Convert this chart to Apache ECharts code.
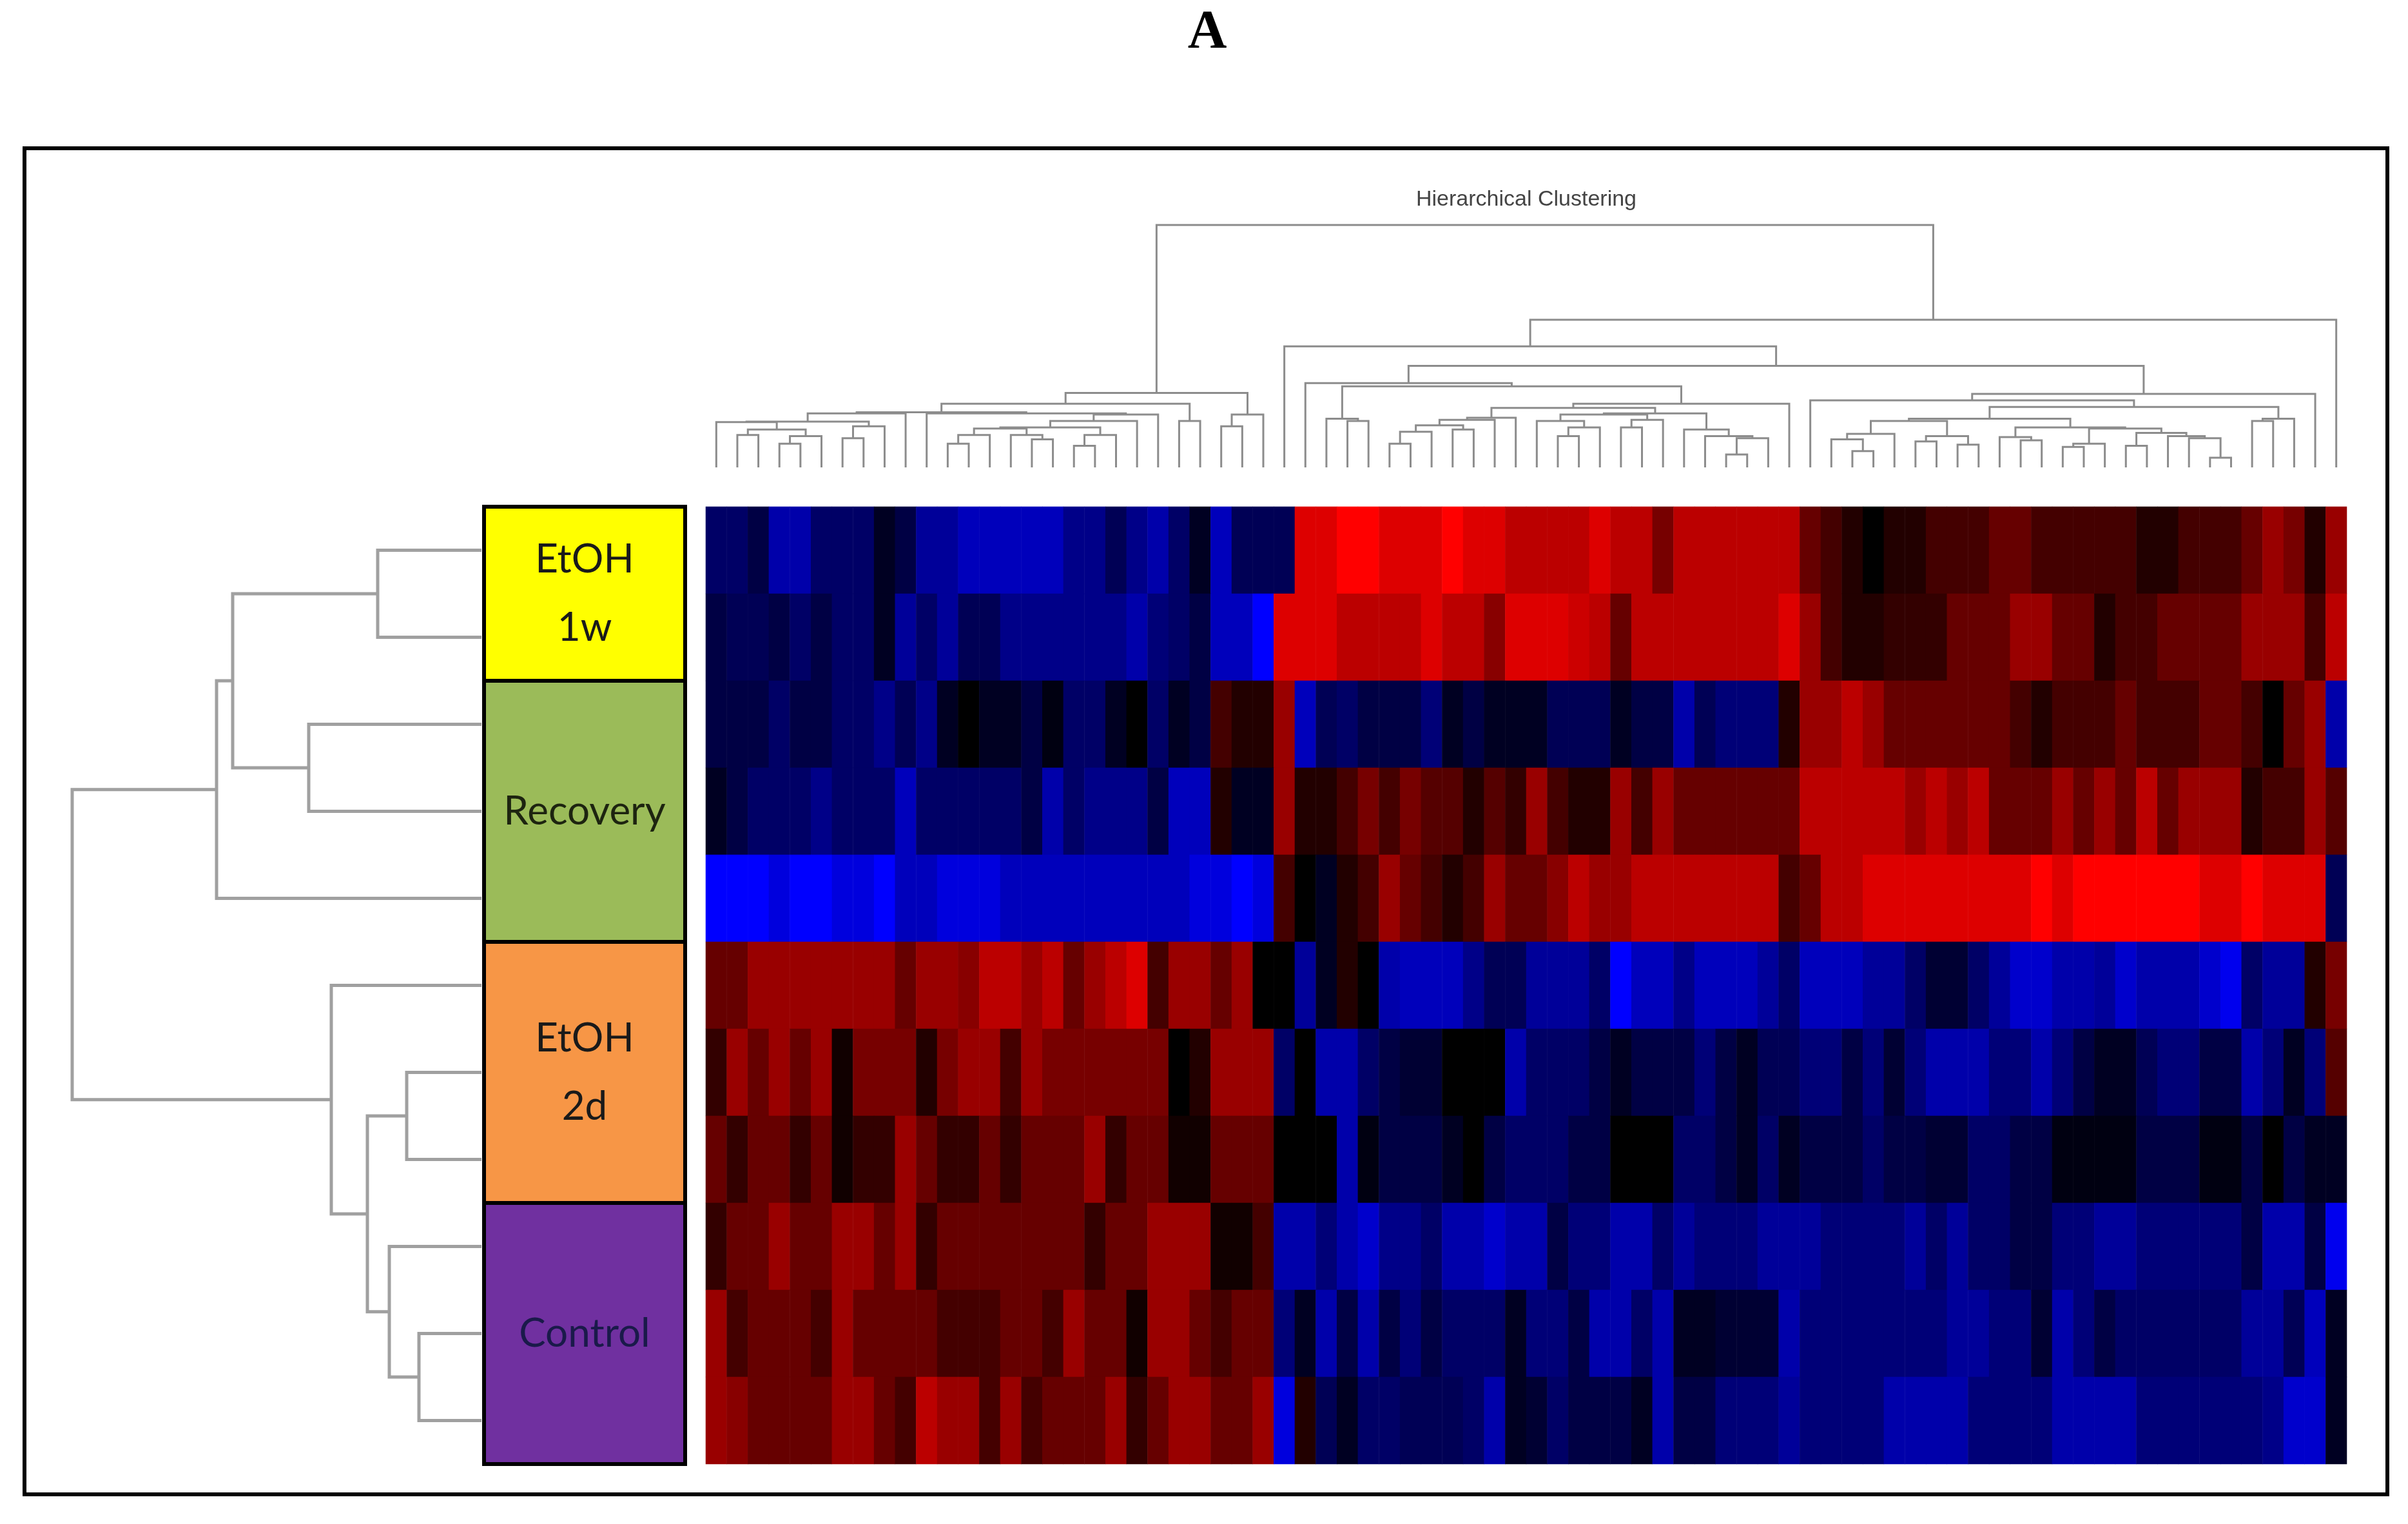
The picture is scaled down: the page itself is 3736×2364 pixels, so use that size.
<!doctype html>
<html lang="en">
<head>
    <meta charset="utf-8">
    <title>Hierarchical Clustering</title>
    <script src="https://cdn.jsdelivr.net/npm/echarts/dist/echarts.min.js"></script>
    <style>
        html, body { margin: 0; padding: 0; background: #fff; }
        #main { width: 3736px; height: 2364px; }
    </style>
</head>
<body>
<div id="main"></div>
<script>
// heatmap rows, top to bottom. values are colour steps: -15 blue .. 0 black .. 15 red
var row1 = [-6,-6,-4,-10,-10,-6,-6,-6,-2,-4, -9,-9,-11,-11,-11,-11,-11,-8,-8,-5, -8,-10,-6,-2,-11,-5,-5,-5,13,13,
            15,15,13,13,13,15,13,13,11,11, 11,11,13,11,11,7,11,11,11,11, 11,11,6,4,2,0,2,2,4,4, 4,6,6,4,4,4,4,4,2,2, 4,4,4,6,9,7,2,9];
var row2 = [-4,-5,-5,-4,-6,-4,-6,-6,-2,-9, -6,-9,-5,-5,-8,-8,-8,-8,-8,-8, -10,-7,-6,-4,-11,-11,-15,13,13,13,
            11,11,11,11,13,11,11,8,13,13, 13,12,11,6,11,11,11,11,11,11, 11,13,9,4,2,2,3,3,3,6, 6,6,9,9,6,6,2,4,4,6, 6,6,6,9,9,9,4,11];
var row3 = [-4,-4,-4,-6,-4,-4,-6,-6,-8,-5, -8,-2,0,-2,-2,-4,-1,-6,-6,-2, 0,-6,-2,-4,4,2,2,9,-11,-5,
            -6,-4,-4,-4,-7,-2,-4,-2,-2,-2, -5,-5,-5,-2,-4,-4,-10,-5,-7,-7, -7,2,9,9,11,9,6,6,6,6, 6,6,4,2,4,4,4,6,4,4, 4,6,6,4,0,6,9,-10];
var row4 = [-2,-4,-6,-6,-6,-8,-6,-6,-6,-11, -6,-6,-6,-6,-6,-4,-10,-6,-8,-8, -8,-4,-11,-11,2,-2,-2,9,2,2,
            4,7,4,7,5,5,2,5,3,9, 4,2,2,9,4,9,6,6,6,6, 6,6,11,11,11,11,11,9,11,9, 11,6,6,6,9,6,9,6,11,6, 9,9,9,2,4,4,9,5];
var row5 = [-15,-15,-15,-13,-15,-15,-13,-13,-15,-11, -11,-13,-13,-13,-11,-11,-11,-11,-11,-11, -11,-11,-11,-13,-13,-15,-13,4,0,-2,
            2,4,9,6,4,2,4,9,6,6, 8,11,9,9,11,11,11,11,11,11, 11,4,6,11,11,13,13,13,13,13, 13,13,13,15,13,15,15,15,15,15, 15,13,13,15,13,13,13,-5];
var row6 = [6,6,9,9,9,9,9,9,9,6, 9,9,8,11,11,9,11,6,9,11, 13,4,9,9,6,9,0,0,-9,-2,
            2,0,-10,-11,-11,-11,-8,-5,-5,-9, -9,-9,-6,-15,-11,-11,-8,-11,-11,-11, -9,-6,-11,-11,-11,-9,-9,-6,-3,-3, -6,-9,-12,-12,-10,-10,-9,-12,-10,-10, -10,-12,-14,-6,-9,-9,2,7];
var row7 = [3,9,6,9,6,9,1,7,7,7, 2,7,9,9,4,9,7,7,7,7, 7,7,0,2,9,9,9,-6,0,-10,
            -10,-6,-4,-3,-3,0,0,0,-10,-6, -6,-6,-4,-2,-4,-4,-4,-7,-4,-2, -5,-5,-7,-7,-4,-7,-3,-7,-10,-10, -10,-7,-7,-10,-7,-4,-2,-2,-5,-7, -7,-4,-4,-10,-7,-2,-7,5];
var row8 = [6,3,6,6,3,6,1,3,3,9, 6,3,3,6,3,6,6,6,9,3, 6,6,1,1,6,6,6,0,0,0,
            -10,-1,-4,-4,-4,-2,0,-4,-6,-6, -6,-4,-4,0,0,0,-6,-6,-4,-2, -6,-2,-4,-4,-4,-6,-4,-4,-3,-3, -6,-6,-4,-4,-1,-1,-1,-1,-4,-4, -4,-1,-1,-4,0,-4,-2,-2];
var row9 = [3,6,6,9,6,6,9,9,6,9, 3,6,6,6,6,6,6,6,3,6, 6,9,9,9,1,1,4,-10,-10,-7,
            -10,-12,-8,-8,-6,-10,-10,-12,-10,-10, -4,-7,-7,-10,-10,-6,-9,-7,-7,-7, -9,-9,-9,-7,-7,-7,-7,-9,-6,-9, -6,-6,-4,-4,-7,-7,-9,-9,-7,-7, -7,-7,-7,-4,-10,-10,-4,-14];
var row10 = [9,4,6,6,6,4,9,6,6,6, 6,4,4,4,6,6,4,9,6,6, 1,9,9,6,4,6,6,-7,-2,-10,
             -4,-10,-4,-7,-4,-6,-6,-6,-2,-7, -7,-4,-10,-10,-6,-10,-2,-2,-3,-3, -3,-10,-7,-7,-7,-7,-7,-7,-7,-9, -9,-7,-7,-3,-10,-7,-4,-6,-6,-6, -6,-6,-6,-9,-9,-5,-11,-2];
var row11 = [9,8,6,6,6,6,9,9,6,4, 11,9,9,4,9,4,6,6,6,9, 3,6,9,9,6,6,9,-13,2,-5,
             -2,-6,-6,-5,-5,-5,-6,-10,-2,-3, -6,-4,-4,-4,-2,-10,-4,-4,-7,-7, -7,-9,-7,-7,-7,-7,-10,-10,-10,-10, -7,-7,-7,-7,-10,-10,-10,-10,-7,-7, -7,-7,-7,-7,-8,-12,-12,-2];
var rows = [row1, row2, row3, row4, row5, row6, row7, row8, row9, row10, row11];

// sample groups (row ranges)
var groupNames = ['EtOH\n1w', 'Recovery', 'EtOH\n2d', 'Control'];
var groupFrom = [0, 2, 5, 8];
var groupTo = [2, 5, 8, 11];
var groupColors = ['#ffff00', '#9bbb59', '#f79646', '#7030a0'];
var groupText = ['#1a1a1a', '#1d2410', '#1a1a1a', '#1a1a4a'];

// row dendrogram [height, left, right], leaves = row index
var rowTree = [635, [411, [386, [161, 0, 1], [268, 2, 3]], 4],
                    [233, 5, [177, [116, 6, 7], [143, 8, [97, 9, 10]]]]];

// column dendrogram pieces, leaves = column index
var colA = [250, [212, [210, 0, [175, [150, 1, 2], [145, [110, 3, 4], 5]]], [190, [135, 6, 7], 8]], 9];
var colB = [250, 10, [245, [215, [185, [180, [150, [110, 11, 12], 13], [150, 14, [130, 15, 16]]],
                                      [150, [100, 17, 18], 19]], 20], 21]];
var colLeft = [345, [295, [255, colA, colB], [215, 22, 23]], [245, [190, 24, 25], 26]];
var colY1 = [230, [220, [195, [165, [110, 32, 33], 34], [175, 35, 36]], 37], 38];
var colY2 = [250, [245, [215, 39, [185, [145, 40, 41], 42]], [220, [185, 43, 44], 45]],
                  [175, 46, [145, 47, [135, [60, 48, 49], 50]]]];
var colR4 = [375, [225, 29, [215, 30, 31]], [295, [275, colY1, colY2], 51]];
var colR7a = [225, [215, [155, [130, 53, [75, 54, 55]], 56], [145, [120, 57, 58], [105, 59, 60]]],
                   [185, [140, 61, [125, 62, 63]],
                         [180, [110, [95, 64, 65], 66], [160, [100, 67, 68], [145, 69, [135, 70, [45, 71, 72]]]]]]];
var colR7b = [225, [215, 73, 74], 75];
var colRight = [683, [560, 27, [470, [390, 28, colR4], [340, [310, 52, [280, colR7a, colR7b]], 76]]], 77];
var colTree = [1122, colLeft, colRight];

var nCols = row1.length;
var nRows = rows.length;

// walk a tree, collect one U per merge: [posA, hA, posB, hB, h]
function treeSegments(tree, off, out) {
    if (typeof tree === 'number') return [tree + off, 0];
    var a = treeSegments(tree[1], off, out);
    var b = treeSegments(tree[2], off, out);
    out.push([a[0], a[1], b[0], b[1], tree[0]]);
    return [(a[0] + b[0]) / 2, tree[0]];
}
var colSegs = [];
treeSegments(colTree, 0, colSegs);
var rowSegs = [];
treeSegments(rowTree, 0.5, rowSegs);

var heatData = [];
rows.forEach(function (r, y) {
    r.forEach(function (v, x) { heatData.push([x, y, v]); });
});
var colCats = [];
for (var i = 0; i < nCols; i++) colCats.push('g' + (i + 1));
var rowCats = [];
for (var j = 0; j < nRows; j++) rowCats.push('s' + (j + 1));

var groupData = groupNames.map(function (n, i) { return [groupFrom[i], groupTo[i], i]; });

var myChart = echarts.init(document.getElementById('main'));

var option = {
    backgroundColor: '#fff',
    animation: false,
    grid: [
        {left: 1095, top: 786, width: 2546, height: 1485},
        {left: 1095, top: 349, width: 2546, height: 376},
        {left: 112, top: 786, width: 635, height: 1485},
        {left: 751, top: 786, width: 312, height: 1485}
    ],
    xAxis: [
        {type: 'category', gridIndex: 0, data: colCats, show: false},
        {type: 'value', gridIndex: 1, min: -0.5, max: nCols - 0.5, show: false},
        {type: 'value', gridIndex: 2, min: 0, max: 635, inverse: true, show: false},
        {type: 'value', gridIndex: 3, min: 0, max: 1, show: false}
    ],
    yAxis: [
        {type: 'category', gridIndex: 0, data: rowCats, inverse: true, show: false},
        {type: 'value', gridIndex: 1, min: 0, max: 1122, show: false},
        {type: 'value', gridIndex: 2, min: 0, max: nRows, inverse: true, show: false},
        {type: 'value', gridIndex: 3, min: 0, max: nRows, inverse: true, show: false}
    ],
    visualMap: {
        type: 'continuous', show: false, seriesIndex: 0, dimension: 2,
        min: -15, max: 15,
        inRange: {color: ['#0000ff', '#000000', '#ff0000']}
    },
    graphic: [
        {type: 'text', x: 1873, y: 52, style: {text: 'A', fontFamily: 'Liberation Serif', fontWeight: 'bold',
            fontSize: 84, fill: '#000', textAlign: 'center', textVerticalAlign: 'middle'}},
        {type: 'text', x: 2368, y: 310, style: {text: 'Hierarchical Clustering', fontFamily: 'Liberation Sans',
            fontSize: 34, fill: '#444', textAlign: 'center', textVerticalAlign: 'middle'}},
        {type: 'rect', z: 100, shape: {x: 38, y: 230, width: 3666, height: 2088},
            style: {fill: null, stroke: '#000', lineWidth: 6}}
    ],
    series: [
        {
            type: 'heatmap', xAxisIndex: 0, yAxisIndex: 0, data: heatData,
            itemStyle: {borderWidth: 0}
        },
        {
            type: 'custom', xAxisIndex: 1, yAxisIndex: 1, data: colSegs,
            encode: {x: [0, 2], y: [1, 3, 4]},
            renderItem: function (params, api) {
                var pts = [
                    api.coord([api.value(0), api.value(1)]),
                    api.coord([api.value(0), api.value(4)]),
                    api.coord([api.value(2), api.value(4)]),
                    api.coord([api.value(2), api.value(3)])
                ];
                return {type: 'polyline', shape: {points: pts},
                    style: {stroke: '#8c8c8c', lineWidth: 3, fill: null}};
            }
        },
        {
            type: 'custom', xAxisIndex: 2, yAxisIndex: 2, data: rowSegs,
            encode: {x: [1, 3, 4], y: [0, 2]},
            renderItem: function (params, api) {
                var pts = [
                    api.coord([api.value(1), api.value(0)]),
                    api.coord([api.value(4), api.value(0)]),
                    api.coord([api.value(4), api.value(2)]),
                    api.coord([api.value(3), api.value(2)])
                ];
                return {type: 'polyline', shape: {points: pts},
                    style: {stroke: '#a0a0a0', lineWidth: 5, fill: null}};
            }
        },
        {
            type: 'custom', xAxisIndex: 3, yAxisIndex: 3, data: groupData,
            encode: {y: [0, 1]},
            renderItem: function (params, api) {
                var i = api.value(2);
                var p0 = api.coord([0, api.value(0)]);
                var p1 = api.coord([1, api.value(1)]);
                return {
                    type: 'group',
                    children: [
                        {type: 'rect', shape: {x: p0[0], y: p0[1], width: p1[0] - p0[0], height: p1[1] - p0[1]},
                            style: {fill: groupColors[i], stroke: '#000', lineWidth: 6}},
                        {type: 'text', x: (p0[0] + p1[0]) / 2, y: (p0[1] + p1[1]) / 2,
                            style: {text: groupNames[i], fontFamily: 'Lato', fontSize: 62, lineHeight: 106,
                                fill: groupText[i], textAlign: 'center', textVerticalAlign: 'middle'}}
                    ]
                };
            }
        }
    ]
};

myChart.setOption(option);
</script>
</body>
</html>
